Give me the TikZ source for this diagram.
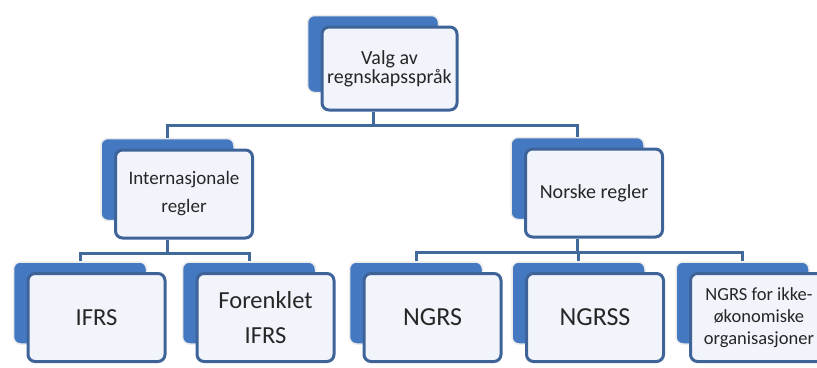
\documentclass[tikz,border=0pt]{standalone}
\usepackage{fontspec}
\setmainfont{Carlito}
\usetikzlibrary{positioning,fit}
\definecolor{orgblue}{HTML}{4479C2}
\definecolor{orgedge}{HTML}{3D6399}
\definecolor{orglink}{HTML}{41699A}
\definecolor{orgfront}{HTML}{F1F4FA}
\definecolor{orgtext}{HTML}{262626}
\tikzset{
  frontbox/.style={draw=orgedge, line width=3pt, fill=orgfront, rounded corners=7pt,
    minimum width=137pt, minimum height=88pt, inner sep=2pt, align=center, text=orgtext},
  backbox/.style={fill=orgblue, draw=black!8, line width=1.5pt, rounded corners=7pt, inner sep=0pt},
  link/.style={draw=orglink, line width=3pt}
}
\newcommand{\orgbox}[4][]{%
  \node[frontbox,#1] (#2) at (#3) {#4};
  \begin{pgfonlayer}{background}
    \node[backbox, fit={([shift={(-13pt,10pt)}]#2.north west) ([shift={(-20pt,19pt)}]#2.south east)}] (#2-b) {};
  \end{pgfonlayer}
}
\pgfdeclarelayer{background}
\pgfsetlayers{background,main}

\begin{document}
\begin{tikzpicture}[x=1pt, y=-1pt]
  \useasboundingbox (0,0) rectangle (817,367);

  \orgbox[font=\fontsize{20}{17}\selectfont, minimum width=135pt, minimum height=83pt]{valg}{389.5,68.5}{Valg av\\regnskapsspråk}
  \orgbox[font=\fontsize{19}{28}\selectfont]{intl}{184,194}{Internasjonale\\regler}
  \orgbox[font=\fontsize{20}{20}\selectfont]{norsk}{594,193}{Norske regler}

  \orgbox[font=\fontsize{24.5}{35}\selectfont]{ifrs}{96.5,317.5}{IFRS}
  \orgbox[font=\fontsize{24.5}{35}\selectfont]{forenk}{265.5,317.5}{Forenklet\\IFRS}
  \orgbox[font=\fontsize{26}{30}\selectfont]{ngrs}{432.5,317.5}{NGRS}
  \orgbox[font=\fontsize{26}{30}\selectfont]{ngrss}{595,317.5}{NGRSS}
  \orgbox[font=\fontsize{18.5}{22}\selectfont]{ngrsik}{759,317.5}{NGRS for ikke-\\økonomiske\\organisasjoner}

  \draw[link] (valg-b |- valg.south) -- +(0,14) coordinate (bar0);
  \draw[link] (bar0) -| (intl-b.north);
  \draw[link] (bar0) -| (norsk-b.north);

  \draw[link] (intl-b |- intl.south) -- +(0,14) coordinate (bar1);
  \foreach \n in {ifrs,forenk}
    \draw[link] (bar1) -| (\n-b.north);

  \draw[link] (norsk-b |- norsk.south) -- +(0,14) coordinate (bar2);
  \foreach \n in {ngrs,ngrss,ngrsik}
    \draw[link] (bar2) -| (\n-b.north);
\end{tikzpicture}
\end{document}
